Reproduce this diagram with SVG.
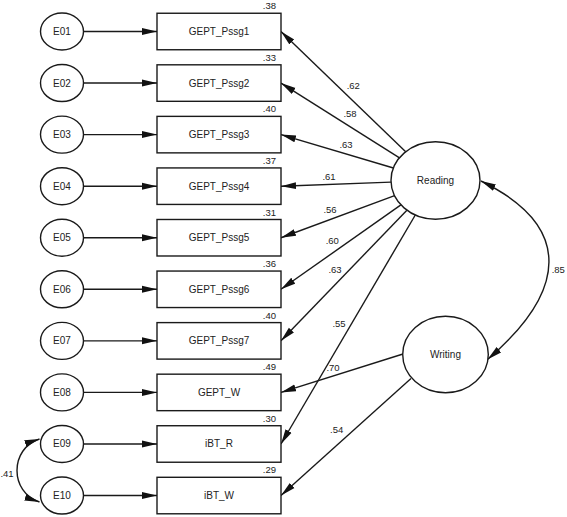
<svg xmlns="http://www.w3.org/2000/svg" width="567" height="517" viewBox="0 0 567 517">
<style>
.shape{fill:#fff;stroke:#1a1a1a;stroke-width:1.4}
.lbl{font-family:"Liberation Sans",Arial,sans-serif;font-size:10px;fill:#222;text-anchor:middle}
.val{font-family:"Liberation Sans",Arial,sans-serif;font-size:9.5px;fill:#222;text-anchor:middle}
.r2{font-family:"Liberation Sans",Arial,sans-serif;font-size:9.5px;fill:#222;text-anchor:end}
.c{fill:none;stroke:#1a1a1a;stroke-width:1.4}
.a{marker-end:url(#ah)}
.d{marker-start:url(#ah);marker-end:url(#ah)}
</style>
<defs>
<marker id="ah" markerUnits="userSpaceOnUse" markerWidth="16" markerHeight="9" refX="15" refY="4" orient="auto-start-reverse">
<path d="M0,0.5 L15,4 L0,7.5 z" fill="#111"/>
</marker>
</defs>
<rect width="567" height="517" fill="#fff"/>

<g id="connectors">
<line class="c a" x1="83.5" y1="31.5" x2="157" y2="31.5"/>
<line class="c a" x1="83.5" y1="83.06" x2="157" y2="83.06"/>
<line class="c a" x1="83.5" y1="134.62" x2="157" y2="134.62"/>
<line class="c a" x1="83.5" y1="186.18" x2="157" y2="186.18"/>
<line class="c a" x1="83.5" y1="237.74" x2="157" y2="237.74"/>
<line class="c a" x1="83.5" y1="289.3" x2="157" y2="289.3"/>
<line class="c a" x1="83.5" y1="340.86" x2="157" y2="340.86"/>
<line class="c a" x1="83.5" y1="392.42" x2="157" y2="392.42"/>
<line class="c a" x1="83.5" y1="443.98" x2="157" y2="443.98"/>
<line class="c a" x1="83.5" y1="495.54" x2="157" y2="495.54"/>
<line class="c a" x1="405.7" y1="151.8" x2="281" y2="31.5"/>
<line class="c a" x1="399.5" y1="157.8" x2="281" y2="83.06"/>
<line class="c a" x1="393.4" y1="168" x2="281" y2="134.62"/>
<line class="c a" x1="391" y1="182.1" x2="281" y2="186.18"/>
<line class="c a" x1="394.6" y1="195.7" x2="281" y2="237.74"/>
<line class="c a" x1="400.9" y1="204.9" x2="281" y2="289.3"/>
<line class="c a" x1="406.9" y1="210.2" x2="281" y2="340.86"/>
<line class="c a" x1="415.3" y1="215" x2="281" y2="443.98"/>
<line class="c a" x1="403" y1="354" x2="281" y2="392.42"/>
<line class="c a" x1="411" y1="378.5" x2="281" y2="495.54"/>
<path class="c d" d="M481,181 C575,227 566,292 487.5,359.5"/>
<path class="c d" d="M39.5,439 C9.5,448.6 9.5,492.1 39.5,502"/>
</g>

<g id="E01"><ellipse class="shape" cx="62" cy="31.5" rx="21.5" ry="18.5"/><text class="lbl" x="62" y="35">E01</text></g>
<g id="E02"><ellipse class="shape" cx="62" cy="83.06" rx="21.5" ry="18.5"/><text class="lbl" x="62" y="86.56">E02</text></g>
<g id="E03"><ellipse class="shape" cx="62" cy="134.62" rx="21.5" ry="18.5"/><text class="lbl" x="62" y="138.12">E03</text></g>
<g id="E04"><ellipse class="shape" cx="62" cy="186.18" rx="21.5" ry="18.5"/><text class="lbl" x="62" y="189.68">E04</text></g>
<g id="E05"><ellipse class="shape" cx="62" cy="237.74" rx="21.5" ry="18.5"/><text class="lbl" x="62" y="241.24">E05</text></g>
<g id="E06"><ellipse class="shape" cx="62" cy="289.3" rx="21.5" ry="18.5"/><text class="lbl" x="62" y="292.8">E06</text></g>
<g id="E07"><ellipse class="shape" cx="62" cy="340.86" rx="21.5" ry="18.5"/><text class="lbl" x="62" y="344.36">E07</text></g>
<g id="E08"><ellipse class="shape" cx="62" cy="392.42" rx="21.5" ry="18.5"/><text class="lbl" x="62" y="395.92">E08</text></g>
<g id="E09"><ellipse class="shape" cx="62" cy="443.98" rx="21.5" ry="18.5"/><text class="lbl" x="62" y="447.48">E09</text></g>
<g id="E10"><ellipse class="shape" cx="62" cy="495.54" rx="21.5" ry="18.5"/><text class="lbl" x="62" y="499.04">E10</text></g>

<g id="GEPT_Pssg1"><rect class="shape" x="157" y="13.25" width="124" height="36.5"/><text class="lbl" x="219" y="35">GEPT_Pssg1</text><text class="r2" x="276" y="9.3">.38</text></g>
<g id="GEPT_Pssg2"><rect class="shape" x="157" y="64.81" width="124" height="36.5"/><text class="lbl" x="219" y="86.56">GEPT_Pssg2</text><text class="r2" x="276" y="60.8">.33</text></g>
<g id="GEPT_Pssg3"><rect class="shape" x="157" y="116.37" width="124" height="36.5"/><text class="lbl" x="219" y="138.12">GEPT_Pssg3</text><text class="r2" x="276" y="112.4">.40</text></g>
<g id="GEPT_Pssg4"><rect class="shape" x="157" y="167.93" width="124" height="36.5"/><text class="lbl" x="219" y="189.68">GEPT_Pssg4</text><text class="r2" x="276" y="163.9">.37</text></g>
<g id="GEPT_Pssg5"><rect class="shape" x="157" y="219.49" width="124" height="36.5"/><text class="lbl" x="219" y="241.24">GEPT_Pssg5</text><text class="r2" x="276" y="215.5">.31</text></g>
<g id="GEPT_Pssg6"><rect class="shape" x="157" y="271.05" width="124" height="36.5"/><text class="lbl" x="219" y="292.8">GEPT_Pssg6</text><text class="r2" x="276" y="267">.36</text></g>
<g id="GEPT_Pssg7"><rect class="shape" x="157" y="322.61" width="124" height="36.5"/><text class="lbl" x="219" y="344.36">GEPT_Pssg7</text><text class="r2" x="276" y="318.6">.40</text></g>
<g id="GEPT_W"><rect class="shape" x="157" y="374.17" width="124" height="36.5"/><text class="lbl" x="219" y="395.92">GEPT_W</text><text class="r2" x="276" y="370.2">.49</text></g>
<g id="iBT_R"><rect class="shape" x="157" y="425.73" width="124" height="36.5"/><text class="lbl" x="219" y="447.48">iBT_R</text><text class="r2" x="276" y="421.7">.30</text></g>
<g id="iBT_W"><rect class="shape" x="157" y="477.29" width="124" height="36.5"/><text class="lbl" x="219" y="499.04">iBT_W</text><text class="r2" x="276" y="473.3">.29</text></g>

<g id="Reading"><ellipse class="shape" cx="435.5" cy="180.5" rx="44.5" ry="38.7"/><text class="lbl" x="435.5" y="184">Reading</text></g>
<g id="Writing"><ellipse class="shape" cx="445.5" cy="354.5" rx="42.8" ry="38.3"/><text class="lbl" x="445.5" y="358">Writing</text></g>

<g id="labels">
<text class="val" x="353.3" y="88.5">.62</text>
<text class="val" x="350" y="116.7">.58</text>
<text class="val" x="346" y="148.3">.63</text>
<text class="val" x="329" y="180.3">.61</text>
<text class="val" x="330" y="213.3">.56</text>
<text class="val" x="332.3" y="244.3">.60</text>
<text class="val" x="335" y="272.7">.63</text>
<text class="val" x="339" y="326.7">.55</text>
<text class="val" x="333" y="371">.70</text>
<text class="val" x="336.7" y="433.3">.54</text>
<text class="val" x="558.3" y="272.7">.85</text>
<text class="val" x="7" y="476.5">.41</text>
</g>
</svg>
